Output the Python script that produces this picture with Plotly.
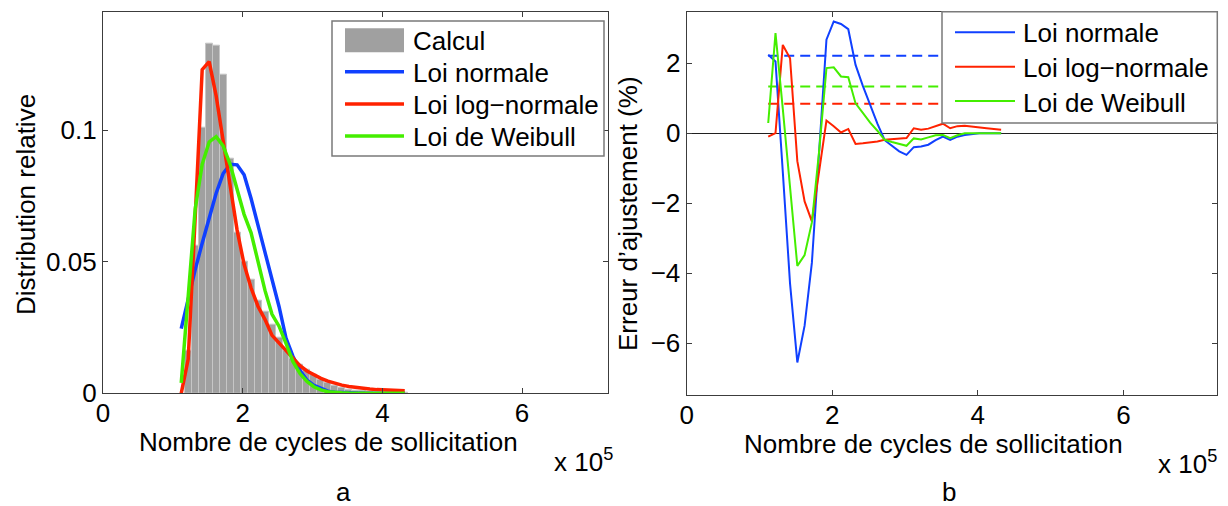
import plotly.graph_objects as go

W, H = 1228, 506
# the page body adds an 8 px margin around the figure; positions below are page pixels
OFF_X, OFF_Y = 8, 8

# ---------------- data ----------------
# common abscissa (number of cycles)
cycles = [112000, 122000, 132000, 142000, 152000, 162000, 172000, 182000, 192000, 202000,
          212000, 222000, 232000, 242000, 252000, 262000, 272000, 282000, 292000, 302000,
          312000, 322000, 332000, 342000, 352000, 362000, 372000, 382000, 392000, 402000,
          412000, 422000, 432000]

# histogram (panel a)
hist_centers = [122000, 132000, 142000, 152000, 162000, 172000, 182000, 192000, 202000, 212000,
                222000, 232000, 242000, 252000, 262000, 272000, 282000, 292000, 302000, 312000,
                322000, 332000, 342000, 352000, 362000, 372000, 382000, 392000, 402000, 412000,
                422000, 432000]
hist_calcul = [0.016, 0.056, 0.101, 0.133, 0.132, 0.121, 0.089, 0.061, 0.050, 0.043,
               0.035, 0.031, 0.026, 0.021, 0.016, 0.013, 0.011, 0.009, 0.007, 0.005,
               0.004, 0.003, 0.002, 0.0015, 0.001, 0.0008, 0.0005, 0.0004, 0.0003, 0.0002,
               0.0002, 0.0001]

pdf_normale = [0.0246, 0.036, 0.047, 0.057, 0.066, 0.076, 0.0835, 0.087, 0.0868, 0.083,
               0.074, 0.064, 0.053, 0.044, 0.033, 0.021, 0.014, 0.0087, 0.005, 0.003,
               0.0018, 0.0008, 0.0004, 0.0002, 0.0001, 0.0001, 0.0, 0.0, 0.0, 0.0,
               0.0, 0.0, 0.0]
pdf_lognormale = [0.0, 0.013, 0.067, 0.123, 0.126, 0.113, 0.096, 0.078, 0.062, 0.049,
                  0.040, 0.033, 0.028, 0.022, 0.019, 0.0165, 0.013, 0.0105, 0.0085, 0.007,
                  0.0057, 0.0046, 0.0038, 0.0031, 0.0026, 0.0022, 0.0018, 0.0016, 0.0014, 0.0013,
                  0.0012, 0.0011, 0.0010]
pdf_weibull = [0.004, 0.036, 0.070, 0.087, 0.0955, 0.0975, 0.094, 0.087, 0.078, 0.068,
               0.061, 0.0497, 0.039, 0.030, 0.0255, 0.019, 0.012, 0.0075, 0.0045, 0.0025,
               0.0013, 0.0006, 0.0003, 0.0002, 0.0001, 0.0001, 0.0, 0.0, 0.0, 0.0,
               0.0, 0.0, 0.0]

# fitting error in % (panel b)
err_normale = [2.24, 2.05, -1.1, -4.3, -6.55, -5.5, -3.7, -0.5, 2.67, 3.19,
               3.12, 2.97, 1.95, 1.35, 0.79, 0.27, -0.2, -0.37, -0.52, -0.62,
               -0.4, -0.38, -0.33, -0.2, -0.1, -0.19, -0.1, -0.05, -0.02, 0.0,
               0.0, 0.0, 0.0]
err_lognormale = [-0.1, 0.0, 2.52, 2.14, -0.8, -1.95, -2.52, -1.1, 0.36, 0.2,
                  0.02, 0.12, -0.31, -0.29, -0.27, -0.24, -0.19, -0.17, -0.16, -0.14,
                  0.14, 0.1, 0.13, 0.2, 0.27, 0.14, 0.2, 0.21, 0.18, 0.16,
                  0.14, 0.12, 0.1]
err_weibull = [0.29, 2.86, 0.7, -1.6, -3.79, -3.48, -2.55, -0.5, 1.86, 1.88,
               1.62, 1.6, 0.85, 0.58, 0.3, 0.07, -0.19, -0.25, -0.31, -0.36,
               -0.15, -0.18, -0.12, -0.06, -0.05, -0.14, -0.06, 0.0, 0.0, 0.0,
               0.0, 0.0, 0.0]

# mean errors (dashed lines)
mean_err_normale = 2.21
mean_err_lognormale = 0.84
mean_err_weibull = 1.33
mean_x = [112000, 432000]

x_tickvals = [0, 200000, 400000, 600000]
x_ticktext = ["0", "2", "4", "6"]
ya_tickvals = [0, 0.05, 0.1]
ya_ticktext = ["0", "0.05", "0.1"]
yb_tickvals = [-6, -4, -2, 0, 2]
yb_ticktext = ["\u22126", "\u22124", "\u22122", "0", "2"]

legend_a = ["Calcul", "Loi normale", "Loi log\u2212normale", "Loi de Weibull"]
legend_b = ["Loi normale", "Loi log\u2212normale", "Loi de Weibull"]

# ---------------- style ----------------
BLUE = "#1040ff"
RED = "#ff2200"
GREEN = "#44ee00"
GRAY = "#a0a0a0"
AX = "#3c3c3c"
FONT = "Liberation Sans, Arial, sans-serif"
FS = 26


def px(x):
    return (x - OFF_X) / W


def py(y):
    return 1 - (y - OFF_Y) / H


fig = go.Figure()

# panel a
fig.add_trace(go.Bar(x=hist_centers, y=hist_calcul, width=10000,
                     marker=dict(color=GRAY, line=dict(color="#c6c6c6", width=1)),
                     name=legend_a[0], xaxis="x", yaxis="y", showlegend=False))
for ys, c, nm in [(pdf_normale, BLUE, legend_a[1]), (pdf_lognormale, RED, legend_a[2]),
                  (pdf_weibull, GREEN, legend_a[3])]:
    fig.add_trace(go.Scatter(x=cycles, y=ys, mode="lines", line=dict(color=c, width=3.5),
                             name=nm, xaxis="x", yaxis="y", showlegend=False))

# panel b
for m, c in [(mean_err_normale, BLUE), (mean_err_lognormale, RED), (mean_err_weibull, GREEN)]:
    fig.add_trace(go.Scatter(x=mean_x, y=[m, m], mode="lines",
                             line=dict(color=c, width=2, dash="10px,6px"),
                             xaxis="x2", yaxis="y2", showlegend=False, hoverinfo="skip"))
for ys, c, nm in [(err_normale, BLUE, legend_b[0]), (err_lognormale, RED, legend_b[1]),
                  (err_weibull, GREEN, legend_b[2])]:
    fig.add_trace(go.Scatter(x=cycles, y=ys, mode="lines", line=dict(color=c, width=2),
                             name=nm, xaxis="x2", yaxis="y2", showlegend=False))

axis_common = dict(showline=True, linecolor=AX, linewidth=1.3, mirror="ticks", ticks="inside",
                   ticklen=5, tickcolor=AX, tickwidth=1, showgrid=False, automargin=False,
                   tickfont=dict(family=FONT, size=FS, color="black"))

fig.update_layout(
    width=W, height=H, autosize=False,
    margin=dict(l=0, r=0, t=0, b=0, pad=0, autoexpand=False),
    paper_bgcolor="white", plot_bgcolor="white", bargap=0, showlegend=False,
    font=dict(family=FONT, size=FS, color="black"),
    xaxis=dict(domain=[px(103), px(608)], range=[0, 723000], anchor="y", zeroline=False,
               ticklabelstandoff=-4,
               tickvals=x_tickvals, ticktext=x_ticktext, **axis_common),
    yaxis=dict(domain=[py(393.3), py(11.7)], range=[0, 0.145], anchor="x", zeroline=False,
               tickvals=ya_tickvals, ticktext=ya_ticktext, **axis_common),
    xaxis2=dict(domain=[px(686.7), px(1217.3)], range=[0, 729000], anchor="y2", zeroline=False,
                ticklabelstandoff=-3,
                tickvals=x_tickvals, ticktext=x_ticktext, **axis_common),
    yaxis2=dict(domain=[py(395), py(11.7)], range=[-7.48, 3.47], anchor="x2",
                zeroline=True, zerolinecolor="#202020", zerolinewidth=1,
                tickvals=yb_tickvals, ticktext=yb_ticktext, **axis_common),
)

shapes = []
annotations = []


def ann(text, x, y, xanchor="center", yanchor="middle", angle=0, size=FS):
    annotations.append(dict(text=text, x=px(x), y=py(y), xref="paper", yref="paper", showarrow=False,
                            xanchor=xanchor, yanchor=yanchor, textangle=angle,
                            font=dict(family=FONT, size=size, color="black")))


# legend a
shapes.append(dict(type="rect", xref="paper", yref="paper", x0=px(332), x1=px(604), y0=py(156), y1=py(21),
                   fillcolor="white", line=dict(color="#7a7a7a", width=1.5), layer="above"))
shapes.append(dict(type="rect", xref="paper", yref="paper", x0=px(345), x1=px(404), y0=py(52.3), y1=py(28.3),
                   fillcolor=GRAY, line=dict(width=0), layer="above"))
for yy, c in [(71.7, BLUE), (104, RED), (136, GREEN)]:
    shapes.append(dict(type="line", xref="paper", yref="paper", x0=px(345), x1=px(404), y0=py(yy), y1=py(yy),
                       line=dict(color=c, width=3.5), layer="above"))
for t, yy in zip(legend_a, [41.5, 73, 105, 136.5]):
    ann(t, 411, yy, xanchor="left")

# legend b
shapes.append(dict(type="rect", xref="paper", yref="paper", x0=px(942), x1=px(1217.3), y0=py(123), y1=py(11.7),
                   fillcolor="white", line=dict(color="#7a7a7a", width=1.5), layer="above"))
for yy, c in [(32.3, BLUE), (66.7, RED), (101, GREEN)]:
    shapes.append(dict(type="line", xref="paper", yref="paper", x0=px(955), x1=px(1015), y0=py(yy), y1=py(yy),
                       line=dict(color=c, width=2), layer="above"))
for t, yy in zip(legend_b, [33, 68, 103]):
    ann(t, 1021, yy, xanchor="left")

# axis titles and labels
ann("Nombre de cycles de sollicitation", 328.5, 442)
ann("Nombre de cycles de sollicitation", 933, 444)
ann("x 10<sup>5</sup>", 552, 460, xanchor="left")
ann("x 10<sup>5</sup>", 1156, 462, xanchor="left")
ann("Distribution relative", 26, 205, angle=-90)
ann("Erreur d\u2019ajustement (%)", 628, 214, angle=-90)
ann("a", 343, 492)
ann("b", 949, 492)

fig.update_layout(shapes=shapes, annotations=annotations)
fig.write_html("out.html")
